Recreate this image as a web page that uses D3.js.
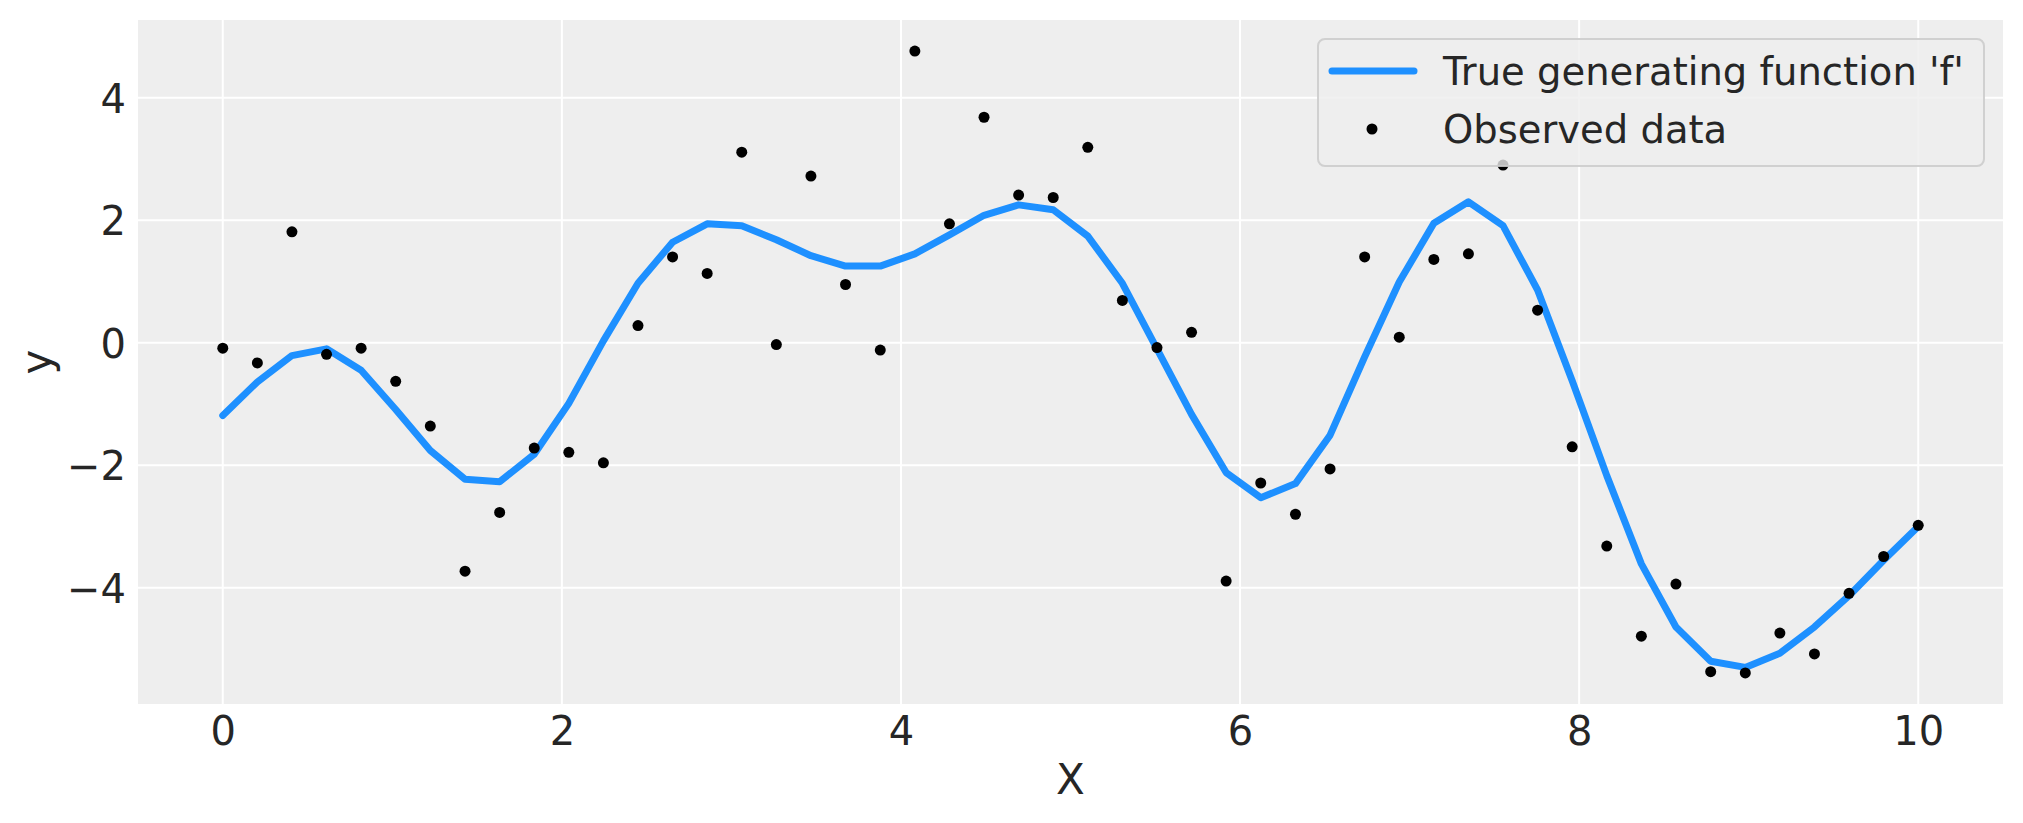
<!DOCTYPE html>
<html>
<head>
<meta charset="utf-8">
<script src="https://cdn.jsdelivr.net/npm/d3@7"></script>
<style>
  html, body { margin: 0; padding: 0; background: #ffffff; }
  svg { display: block; }
  text { font-family: "DejaVu Sans", sans-serif; fill: #262626; }
</style>
</head>
<body>
<svg id="chart" width="2023" height="823"></svg>
<script>
// ---- data ----
const xValues = [0, 0.204, 0.408, 0.612, 0.816, 1.020, 1.224, 1.429, 1.633, 1.837,
  2.041, 2.245, 2.449, 2.653, 2.857, 3.061, 3.265, 3.469, 3.673, 3.878,
  4.082, 4.286, 4.490, 4.694, 4.898, 5.102, 5.306, 5.510, 5.714, 5.918,
  6.122, 6.327, 6.531, 6.735, 6.939, 7.143, 7.347, 7.551, 7.755, 7.959,
  8.163, 8.367, 8.571, 8.776, 8.980, 9.184, 9.388, 9.592, 9.796, 10.0];

const trueF = [-1.19, -0.64, -0.21, -0.10, -0.45, -1.09, -1.76, -2.23, -2.27, -1.82,
  -0.99, 0.03, 0.97, 1.64, 1.94, 1.91, 1.68, 1.42, 1.25, 1.25,
  1.45, 1.76, 2.08, 2.25, 2.17, 1.74, 0.97, -0.10, -1.17, -2.12,
  -2.53, -2.30, -1.51, -0.23, 0.99, 1.95, 2.30, 1.91, 0.86, -0.62,
  -2.17, -3.61, -4.64, -5.20, -5.30, -5.07, -4.64, -4.13, -3.55, -3.00];

const observed = [-0.09, -0.33, 1.81, -0.19, -0.09, -0.63, -1.36, -3.73, -2.77, -1.72,
  -1.79, -1.96, 0.28, 1.40, 1.13, 3.11, -0.03, 2.72, 0.95, -0.12,
  4.76, 1.94, 3.68, 2.41, 2.37, 3.19, 0.69, -0.08, 0.17, -3.89,
  -2.29, -2.80, -2.06, 1.40, 0.09, 1.36, 1.45, 2.90, 0.53, -1.70,
  -3.32, -4.79, -3.94, -5.37, -5.39, -4.74, -5.08, -4.09, -3.49, -2.98];

const xTicks = [0, 2, 4, 6, 8, 10];
const yTicks = [-4, -2, 0, 2, 4];
const seriesNames = ["True generating function 'f'", "Observed data"];
const xLabel = "X";
const yLabel = "y";

// ---- layout ----
const plot = { left: 138, right: 2003, top: 20, bottom: 704 };
const svg = d3.select("#chart");

const xMin = d3.min(xValues), xMax = d3.max(xValues);
const xPad = (xMax - xMin) * 0.05;
const allY = trueF.concat(observed);
const yMin = d3.min(allY), yMax = d3.max(allY);
const yPad = (yMax - yMin) * 0.05;

const x = d3.scaleLinear().domain([xMin - xPad, xMax + xPad]).range([plot.left, plot.right]);
const y = d3.scaleLinear().domain([yMin - yPad, yMax + yPad]).range([plot.bottom, plot.top]);

// background
svg.append("rect")
  .attr("x", plot.left).attr("y", plot.top)
  .attr("width", plot.right - plot.left).attr("height", plot.bottom - plot.top)
  .attr("fill", "#eeeeee");

// grid
const grid = svg.append("g");
grid.selectAll("line.gx").data(xTicks).enter().append("line")
  .attr("x1", d => x(d)).attr("x2", d => x(d))
  .attr("y1", plot.top).attr("y2", plot.bottom)
  .attr("stroke", "#ffffff").attr("stroke-width", 2);
grid.selectAll("line.gy").data(yTicks).enter().append("line")
  .attr("y1", d => y(d)).attr("y2", d => y(d))
  .attr("x1", plot.left).attr("x2", plot.right)
  .attr("stroke", "#ffffff").attr("stroke-width", 2);

const fmt = d => (d < 0 ? "\u2212" + Math.abs(d) : String(d));

// axes using d3 axis generators (no domain line, no tick lines)
const xAxis = d3.axisBottom(x).tickValues(xTicks).tickFormat(fmt).tickSize(0).tickPadding(0);
const gx = svg.append("g").attr("transform", `translate(0,${plot.bottom})`).call(xAxis);
gx.select(".domain").remove();
gx.selectAll("text")
  .attr("y", 41).attr("dy", null)
  .style("font-family", "'DejaVu Sans', sans-serif")
  .style("font-size", "40px").attr("fill", "#262626");

const yAxis = d3.axisLeft(y).tickValues(yTicks).tickFormat(fmt).tickSize(0).tickPadding(0);
const gy = svg.append("g").attr("transform", `translate(${plot.left},0)`).call(yAxis);
gy.select(".domain").remove();
gy.selectAll("text")
  .attr("x", -12).attr("dy", "0.36em")
  .style("font-family", "'DejaVu Sans', sans-serif")
  .style("font-size", "40px").attr("fill", "#262626");

// axis labels
svg.append("text")
  .attr("x", (plot.left + plot.right) / 2).attr("y", 794)
  .attr("text-anchor", "middle")
  .style("font-size", "42px")
  .text(xLabel);
svg.append("text")
  .attr("transform", `translate(51,${(plot.top + plot.bottom) / 2}) rotate(-90)`)
  .attr("text-anchor", "middle")
  .style("font-size", "42px")
  .text(yLabel);

// line
const lineGen = d3.line().x((d, i) => x(xValues[i])).y(d => y(d));
svg.append("path")
  .datum(trueF)
  .attr("d", lineGen)
  .attr("fill", "none")
  .attr("stroke", "#1e90ff")
  .attr("stroke-width", 7)
  .attr("stroke-linejoin", "round")
  .attr("stroke-linecap", "round");

// points
svg.append("g").selectAll("circle").data(observed).enter().append("circle")
  .attr("cx", (d, i) => x(xValues[i]))
  .attr("cy", d => y(d))
  .attr("r", 5.5)
  .attr("fill", "#000000");

// legend
const lg = svg.append("g");
lg.append("rect")
  .attr("x", 1318).attr("y", 39).attr("width", 666).attr("height", 127)
  .attr("rx", 7).attr("ry", 7)
  .attr("fill", "#eeeeee").attr("fill-opacity", 0.8)
  .attr("stroke", "#cccccc").attr("stroke-opacity", 0.9).attr("stroke-width", 2);
lg.append("line")
  .attr("x1", 1332).attr("x2", 1414).attr("y1", 71).attr("y2", 71)
  .attr("stroke", "#1e90ff").attr("stroke-width", 7).attr("stroke-linecap", "round");
lg.append("circle").attr("cx", 1372).attr("cy", 129).attr("r", 5.5).attr("fill", "#000");
lg.selectAll("text").data(seriesNames).enter().append("text")
  .attr("x", 1443).attr("y", (d, i) => 85 + i * 58)
  .style("font-size", "38.5px")
  .text(d => d);
</script>
</body>
</html>
